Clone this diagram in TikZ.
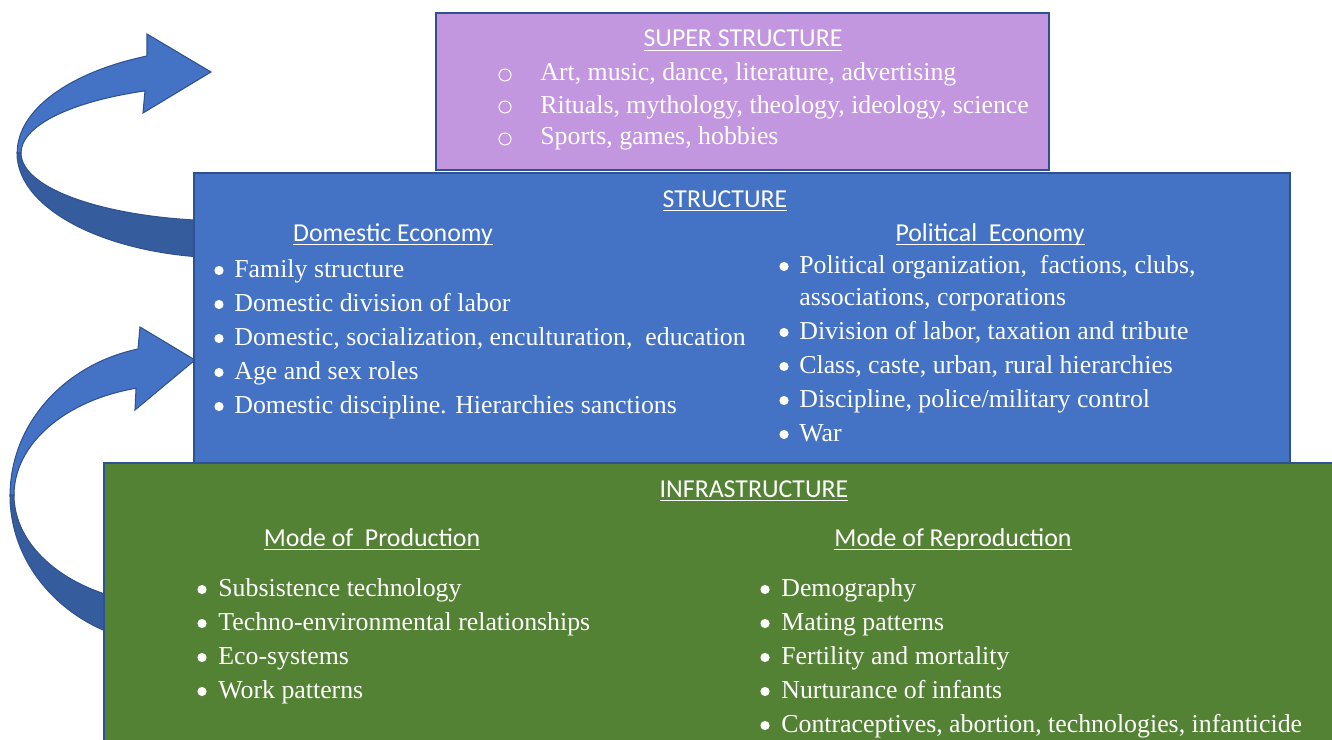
\documentclass[tikz,border=0pt]{standalone}
\usepackage{fontspec}
\setmainfont{Liberation Serif}
\newfontfamily\headfont{Carlito}
\usetikzlibrary{positioning}
\definecolor{edgeblue}{RGB}{47,82,143}
\definecolor{superfill}{RGB}{195,150,224}
\definecolor{structfill}{RGB}{68,114,196}
\definecolor{infrafill}{RGB}{84,130,53}
\definecolor{arrowlight}{RGB}{68,114,196}
\definecolor{arrowdark}{RGB}{53,92,157}
\newcommand{\headul}[1]{\setbox0\hbox{#1}\rlap{\rule[-2.5pt]{\wd0}{0.85pt}}\box0}
\tikzset{
  layer/.style={draw=edgeblue,line width=0.85pt},
  head/.style={anchor=base,inner sep=0pt,text=white,font=\headfont\fontsize{14.7}{18}\selectfont},
  item/.style={anchor=base west,inner sep=0pt,text=white,font=\fontsize{14.7}{18}\selectfont},
  dot/.style={fill=white},
  ring/.style={draw=white,line width=0.6pt},
  twist/.style={draw=edgeblue,line width=0.6pt},
}

\begin{document}
\begin{tikzpicture}[x=0.02cm,y=-0.02cm]
  \useasboundingbox (0,0) rectangle (1332,740);
  \clip (0,0) rectangle (1332,740);
  % curved arrows, back band first
  \filldraw[twist,fill=arrowdark] (17,153) arc[start angle=180,end angle=90,x radius=213,y radius=105]
    -- (230,221) arc[start angle=90,end angle=180,x radius=209,y radius=68] -- cycle;
  \filldraw[twist,fill=arrowlight] (211,72) -- (147,34) -- (147,56)
    arc[start angle=-113,end angle=-180,x radius=213,y radius=105]
    -- (21,153) arc[start angle=180,end angle=246,x radius=209,y radius=68] -- (143,113) -- cycle;
  \filldraw[twist,fill=arrowdark] (10,495) arc[start angle=180,end angle=90,x radius=165,y radius=150]
    -- (175,605) arc[start angle=90,end angle=180,x radius=161,y radius=110] -- cycle;
  \filldraw[twist,fill=arrowlight] (195,360) -- (140,327) -- (138,349)
    arc[start angle=-103,end angle=-180,x radius=165,y radius=150]
    -- (14,495) arc[start angle=180,end angle=256,x radius=161,y radius=110] -- (135,410) -- cycle;
  % layers
  \draw[layer,fill=superfill] (436,13) rectangle (1049,170);
  \draw[layer,fill=structfill] (194,173) rectangle (1290,463);
  \draw[layer,fill=infrafill] (104,463) rectangle (1345,755);
  % super structure
  \node[head] (suphead) at (743,47) {\headul{SUPER STRUCTURE}};
  \foreach \txt [count=\i] in {{Art, music, dance, literature, advertising},
      {Rituals, mythology, theology, ideology, science},{Sports, games, hobbies}} {
    \node[item] (sup\i) at (540,49+32*\i) {\txt};
    \draw[ring] (sup\i.base west) ++(-35,-6) circle[radius=6];
  }
  % structure
  \node[head] (structhead) at (725,207) {\headul{STRUCTURE}};
  \node[head] (domhead) at (393,241) {\headul{Domestic Economy}};
  \node[head] (polhead) at (990,241) {\headul{Political~~Economy}};
  \foreach \txt [count=\i] in {Family structure,Domestic division of labor,
      {Domestic, socialization, enculturation,~~education},Age and sex roles,
      {Domestic discipline. Hierarchies sanctions}} {
    \node[item] (dom\i) at (234,243+34*\i) {\txt};
    \fill[dot] (dom\i.base west) ++(-15,-6.5) circle[radius=4.6];
  }
  \node[item] (pol1) at (799,273) {Political organization,~~factions, clubs,};
  \fill[dot] (pol1.base west) ++(-15,-6.5) circle[radius=4.6];
  \node[item] (pol1b) at (799,305) {associations, corporations};
  \foreach \txt [count=\i from 2] in {{Division of labor, taxation and tribute},
      {Class, caste, urban, rural hierarchies},{Discipline, police/military control},War} {
    \node[item] (pol\i) at (799,271+34*\i) {\txt};
    \fill[dot] (pol\i.base west) ++(-15,-6.5) circle[radius=4.6];
  }
  % infrastructure
  \node[head] (infrahead) at (754,497) {\headul{INFRASTRUCTURE}};
  \node[head] (prodhead) at (372,546) {\headul{Mode of~~Production}};
  \node[head] (reprohead) at (953,546) {\headul{Mode of Reproduction}};
  \foreach \txt [count=\i] in {Subsistence technology,Techno-environmental relationships,
      Eco-systems,Work patterns} {
    \node[item] (prod\i) at (218,562+34*\i) {\txt};
    \fill[dot] (prod\i.base west) ++(-16,-6.5) circle[radius=4.6];
  }
  \foreach \txt [count=\i] in {Demography,Mating patterns,Fertility and mortality,
      Nurturance of infants,{Contraceptives, abortion, technologies, infanticide}} {
    \node[item] (repro\i) at (781,562+34*\i) {\txt};
    \fill[dot] (repro\i.base west) ++(-16,-6.5) circle[radius=4.6];
  }
\end{tikzpicture}
\end{document}
